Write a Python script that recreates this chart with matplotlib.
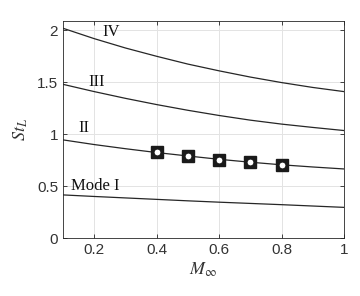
import matplotlib
matplotlib.use("Agg")
import matplotlib.pyplot as plt

plt.rcParams['mathtext.fontset'] = 'stix'

mach = [0.1, 0.2, 0.3, 0.4, 0.5, 0.6, 0.7, 0.8, 0.9, 1.0]
mode1 = [0.415, 0.40, 0.386, 0.372, 0.358, 0.345, 0.333, 0.321, 0.308, 0.295]
mode2 = [0.945, 0.90, 0.86, 0.823, 0.79, 0.758, 0.73, 0.705, 0.684, 0.665]
mode3 = [1.48, 1.41, 1.345, 1.285, 1.23, 1.18, 1.135, 1.097, 1.065, 1.035]
mode4 = [2.02, 1.92, 1.83, 1.75, 1.675, 1.61, 1.55, 1.497, 1.45, 1.41]

exp_mach = [0.4, 0.5, 0.6, 0.7, 0.8]
exp_st = [0.83, 0.785, 0.75, 0.73, 0.70]

labels = ["Mode I", "II", "III", "IV"]
label_pos = [(0.127, 0.505), (0.15, 1.06), (0.18, 1.50), (0.225, 1.98)]

fig = plt.figure(figsize=(3.6, 2.96), dpi=100)
ax = fig.add_axes([63/360, 1-238/296, (344-63)/360, (238-21)/296])

for s in [mode1, mode2, mode3, mode4]:
    ax.plot(mach, s, color='#262626', lw=0.9)

ax.plot(exp_mach, exp_st, ls='none', marker='s', ms=8, mfc='#1a1a1a', mec='#1a1a1a')
ax.plot(exp_mach, exp_st, ls='none', marker='o', ms=5, mfc='white', mec='#1a1a1a', mew=0.8)

for t, (x, y) in zip(labels, label_pos):
    ax.text(x, y, t, family='Liberation Serif', fontsize=12, ha='left', va='center', color='#111111')

ax.set_xlim(0.1, 1.0)
ax.set_ylim(0, 2.09)
ax.set_xticks([0.2, 0.4, 0.6, 0.8, 1.0])
ax.set_xticklabels(['0.2', '0.4', '0.6', '0.8', '1'])
ax.set_yticks([0, 0.5, 1, 1.5, 2])
ax.set_yticklabels(['0', '0.5', '1', '1.5', '2'])
ax.grid(True, color='#e3e3e3', lw=0.7)
ax.set_axisbelow(True)
ax.tick_params(direction='in', top=True, right=True, length=3, width=0.6,
               colors='#262626', labelsize=11, labelcolor='#333333')
for lab in ax.get_xticklabels() + ax.get_yticklabels():
    lab.set_family('Liberation Sans')
for sp in ax.spines.values():
    sp.set_color('#262626')
    sp.set_linewidth(0.6)

ax.set_xlabel(r'$M_\infty$', fontsize=13, color='#333333', labelpad=3)
ax.set_ylabel(r'$St_L$', fontsize=13, color='#333333', labelpad=5)

fig.savefig('out.png', dpi=100)
